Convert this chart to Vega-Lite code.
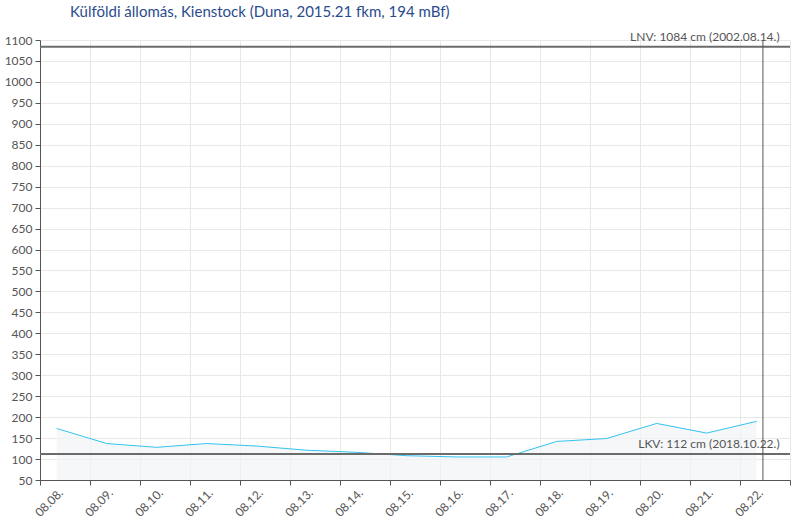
{
  "$schema": "https://vega.github.io/schema/vega-lite/v6.json",
  "width": 750,
  "height": 440,
  "autosize": {"type": "none"},
  "padding": {"left": 40, "top": 40, "right": 10, "bottom": 40},
  "background": "white",
  "title": {
    "text": "Külföldi állomás, Kienstock (Duna, 2015.21 fkm, 194 mBf)",
    "anchor": "start",
    "frame": "group",
    "dx": 30,
    "offset": 11,
    "font": "Lato",
    "fontSize": 15,
    "fontWeight": "normal",
    "color": "#2b4c8c"
  },
  "config": {
    "view": {"stroke": null},
    "font": "Lato",
    "axis": {
      "labelFont": "Lato",
      "labelFontSize": 12,
      "labelColor": "#555555",
      "domainColor": "#555555",
      "tickColor": "#555555",
      "gridColor": "#e8e8e8",
      "title": null
    }
  },
  "datasets": {
    "level": [
      {"time": "2024-08-08T08:00:00", "cm": 173},
      {"time": "2024-08-09T08:00:00", "cm": 137},
      {"time": "2024-08-10T08:00:00", "cm": 128},
      {"time": "2024-08-11T08:00:00", "cm": 137},
      {"time": "2024-08-12T08:00:00", "cm": 131},
      {"time": "2024-08-13T08:00:00", "cm": 121},
      {"time": "2024-08-14T08:00:00", "cm": 116},
      {"time": "2024-08-15T08:00:00", "cm": 108},
      {"time": "2024-08-16T08:00:00", "cm": 105},
      {"time": "2024-08-17T08:00:00", "cm": 105},
      {"time": "2024-08-18T08:00:00", "cm": 142},
      {"time": "2024-08-19T08:00:00", "cm": 149},
      {"time": "2024-08-20T08:00:00", "cm": 185},
      {"time": "2024-08-21T08:00:00", "cm": 162},
      {"time": "2024-08-22T08:00:00", "cm": 190}
    ],
    "limits": [
      {"cm": 112, "label": "LKV: 112 cm (2018.10.22.)"},
      {"cm": 1084, "label": "LNV: 1084 cm (2002.08.14.)"}
    ],
    "now": [
      {"time": "2024-08-22T11:00:00"}
    ]
  },
  "layer": [
    {
      "data": {"name": "level"},
      "mark": {
        "type": "area",
        "fill": "#f2f3f7",
        "line": {"color": "#33c3f0", "strokeWidth": 1},
        "clip": true
      },
      "encoding": {
        "x": {
          "field": "time",
          "type": "temporal",
          "scale": {
            "domain": [
              {"year": 2024, "month": 8, "date": 8},
              {"year": 2024, "month": 8, "date": 23}
            ],
            "nice": false
          },
          "axis": {
            "values": [
              {"year": 2024, "month": 8, "date": 8},
              {"year": 2024, "month": 8, "date": 9},
              {"year": 2024, "month": 8, "date": 10},
              {"year": 2024, "month": 8, "date": 11},
              {"year": 2024, "month": 8, "date": 12},
              {"year": 2024, "month": 8, "date": 13},
              {"year": 2024, "month": 8, "date": 14},
              {"year": 2024, "month": 8, "date": 15},
              {"year": 2024, "month": 8, "date": 16},
              {"year": 2024, "month": 8, "date": 17},
              {"year": 2024, "month": 8, "date": 18},
              {"year": 2024, "month": 8, "date": 19},
              {"year": 2024, "month": 8, "date": 20},
              {"year": 2024, "month": 8, "date": 21},
              {"year": 2024, "month": 8, "date": 22},
              {"year": 2024, "month": 8, "date": 23}
            ],
            "tickCount": 40,
            "format": "%m.%d.",
            "labelExpr": "date(datum.value) == 23 ? '' : datum.label",
            "labelAngle": -45,
            "labelAlign": "right",
            "labelBaseline": "top",
            "labelOffset": 17,
            "labelPadding": 2,
            "labelFlush": false,
            "labelOverlap": false,
            "tickSize": 5,
            "grid": true
          }
        },
        "y": {
          "field": "cm",
          "type": "quantitative",
          "scale": {"domain": [50, 1100], "nice": false, "zero": false},
          "axis": {
            "values": [50, 100, 150, 200, 250, 300, 350, 400, 450, 500, 550, 600, 650, 700, 750, 800, 850, 900, 950, 1000, 1050, 1100],
            "tickCount": 40,
            "format": "d",
            "labelOverlap": false,
            "labelFlush": false,
            "tickSize": 5,
            "labelPadding": 3,
            "grid": true
          }
        }
      }
    },
    {
      "data": {"name": "limits"},
      "mark": {"type": "rule", "color": "#6b6b6b", "strokeWidth": 2},
      "encoding": {
        "y": {"field": "cm", "type": "quantitative"}
      }
    },
    {
      "data": {"name": "limits"},
      "mark": {
        "type": "text",
        "align": "right",
        "baseline": "bottom",
        "dy": -3,
        "font": "Lato",
        "fontSize": 12,
        "color": "#555555"
      },
      "encoding": {
        "x": {"datum": {"year": 2024, "month": 8, "date": 22, "hours": 19}, "type": "temporal"},
        "y": {"field": "cm", "type": "quantitative"},
        "text": {"field": "label"}
      }
    },
    {
      "data": {"name": "now"},
      "mark": {"type": "rule", "color": "#555555", "strokeWidth": 1},
      "encoding": {
        "x": {"field": "time", "type": "temporal"}
      }
    }
  ]
}
